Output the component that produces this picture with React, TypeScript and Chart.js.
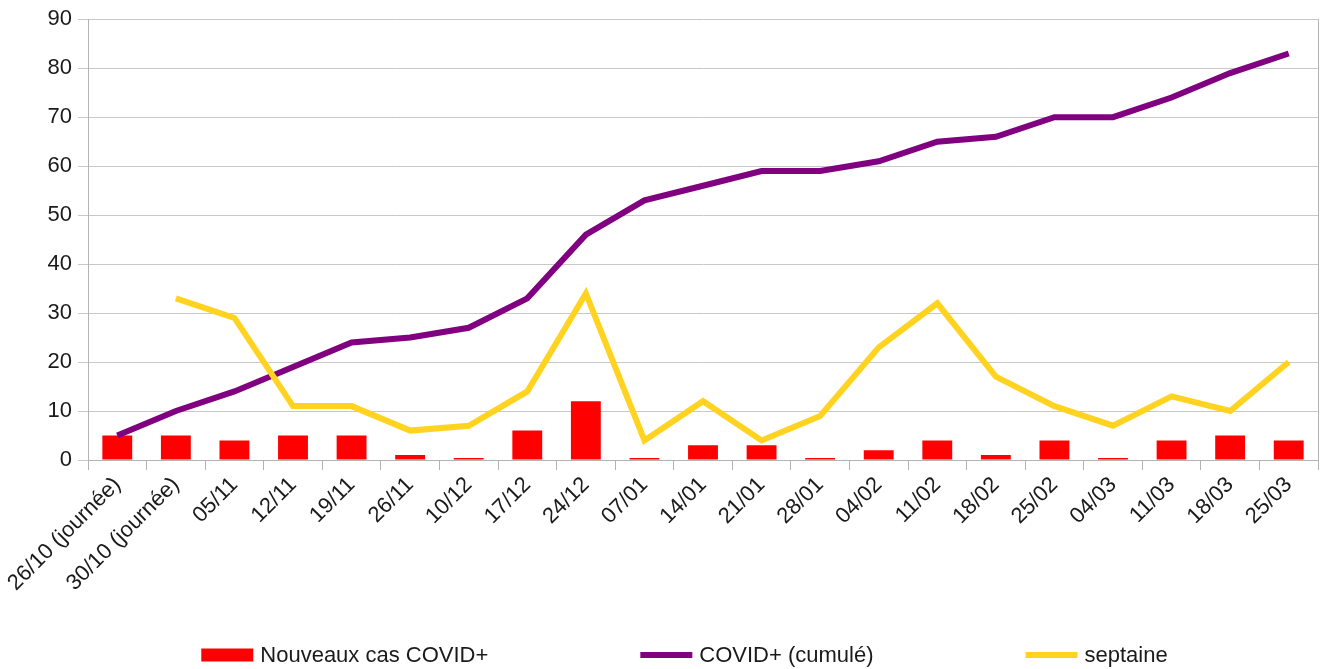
import React, { useEffect, useRef } from "react";
import { Chart, registerables } from "chart.js";

Chart.register(...registerables);

const categories = [
  "26/10 (journée)", "30/10 (journée)", "05/11", "12/11", "19/11", "26/11", "10/12",
  "17/12", "24/12", "07/01", "14/01", "21/01", "28/01", "04/02", "11/02", "18/02",
  "25/02", "04/03", "11/03", "18/03", "25/03",
];

const nouveauxCas = [5, 5, 4, 5, 5, 1, 0, 6, 12, 0, 3, 3, 0, 2, 4, 1, 4, 0, 4, 5, 4];
const cumule = [5, 10, 14, 19, 24, 25, 27, 33, 46, 53, 56, 59, 59, 61, 65, 66, 70, 70, 74, 79, 83];
const septaine = [null, 33, 29, 11, 11, 6, 7, 14, 34, 4, 12, 4, 9, 23, 32, 17, 11, 7, 13, 10, 20];

const yTicks = { min: 0, max: 90, step: 10 };

const FONT = "'Liberation Sans', Arial, sans-serif";
const FONT_SIZE = 22;

const legendPlugin = {
  id: "customLegend",
  afterDraw(chart: any) {
    const ctx = chart.ctx;
    const area = chart.chartArea;
    ctx.save();
    // right wall border
    ctx.strokeStyle = "#b3b3b3";
    ctx.lineWidth = 1;
    ctx.beginPath();
    ctx.moveTo(area.right + 0.5, area.top);
    ctx.lineTo(area.right + 0.5, area.bottom);
    ctx.stroke();

    ctx.font = `${FONT_SIZE}px ${FONT}`;
    ctx.textBaseline = "middle";
    ctx.textAlign = "left";
    const boxW = 52;
    const gapText = 7;
    const gapItem = 152;
    const items = chart.data.datasets.map((ds: any) => ({
      text: ds.label,
      color: ds.type === "bar" ? ds.backgroundColor : ds.borderColor,
      isBar: ds.type === "bar",
      w: boxW + gapText + ctx.measureText(ds.label).width,
    }));
    const total = items.reduce((s: number, it: any) => s + it.w, 0) + gapItem * (items.length - 1);
    let x = (chart.width - total) / 2 + 24;
    const y = chart.height - 14;
    items.forEach((it: any) => {
      ctx.fillStyle = it.color;
      if (it.isBar) {
        ctx.fillRect(x, y - 6.5, boxW, 13);
      } else {
        ctx.fillRect(x, y - 3, boxW, 6);
      }
      ctx.fillStyle = "#1a1a1a";
      ctx.fillText(it.text, x + boxW + gapText, y + 1);
      x += it.w + gapItem;
    });
    ctx.restore();
  },
};

export default function App() {
  const ref = useRef<HTMLCanvasElement | null>(null);

  useEffect(() => {
    if (!ref.current) return;
    const chart = new Chart(ref.current, {
      type: "bar",
      data: {
        labels: categories,
        datasets: [
          {
            type: "bar",
            label: "Nouveaux cas COVID+",
            data: nouveauxCas,
            backgroundColor: "#ff0000",
            barPercentage: 0.51,
            categoryPercentage: 1,
            minBarLength: 2,
            order: 3,
          } as any,
          {
            type: "line",
            label: "COVID+ (cumulé)",
            data: cumule,
            borderColor: "#800080",
            backgroundColor: "#800080",
            borderWidth: 6,
            pointRadius: 0,
            tension: 0,
            order: 2,
          } as any,
          {
            type: "line",
            label: "septaine",
            data: septaine,
            borderColor: "#ffd320",
            backgroundColor: "#ffd320",
            borderWidth: 6,
            pointRadius: 0,
            tension: 0,
            order: 1,
          } as any,
        ],
      },
      options: {
        animation: false,
        responsive: false,
        maintainAspectRatio: false,
        layout: { padding: { top: 19, right: 3, left: 0, bottom: 50 } },
        plugins: {
          legend: { display: false },
          tooltip: { enabled: false },
        },
        scales: {
          x: {
            offset: true,
            grid: {
              offset: true,
              drawOnChartArea: false,
              drawTicks: true,
              tickLength: 10,
              color: "#b3b3b3",
            },
            border: { color: "#b3b3b3" },
            ticks: {
              autoSkip: false,
              maxRotation: 45,
              minRotation: 45,
              padding: 2,
              color: "#1a1a1a",
              font: { family: FONT, size: FONT_SIZE },
            },
            afterFit: (scale: any) => {
              scale.height = 159;
            },
          },
          y: {
            min: yTicks.min,
            max: yTicks.max,
            ticks: {
              stepSize: yTicks.step,
              padding: 6,
              color: "#1a1a1a",
              font: { family: FONT, size: FONT_SIZE },
            },
            grid: { color: "#c8c8c8", tickLength: 10 },
            border: { color: "#b3b3b3" },
            afterFit: (scale: any) => {
              scale.width = 88;
            },
          },
        },
      },
      plugins: [legendPlugin],
    });
    return () => chart.destroy();
  }, []);

  return (
    <div style={{ position: "fixed", left: 0, top: 0, width: 1321, height: 669, background: "#fff" }}>
      <canvas ref={ref} width={1321} height={669} style={{ width: 1321, height: 669, display: "block" }} />
    </div>
  );
}
